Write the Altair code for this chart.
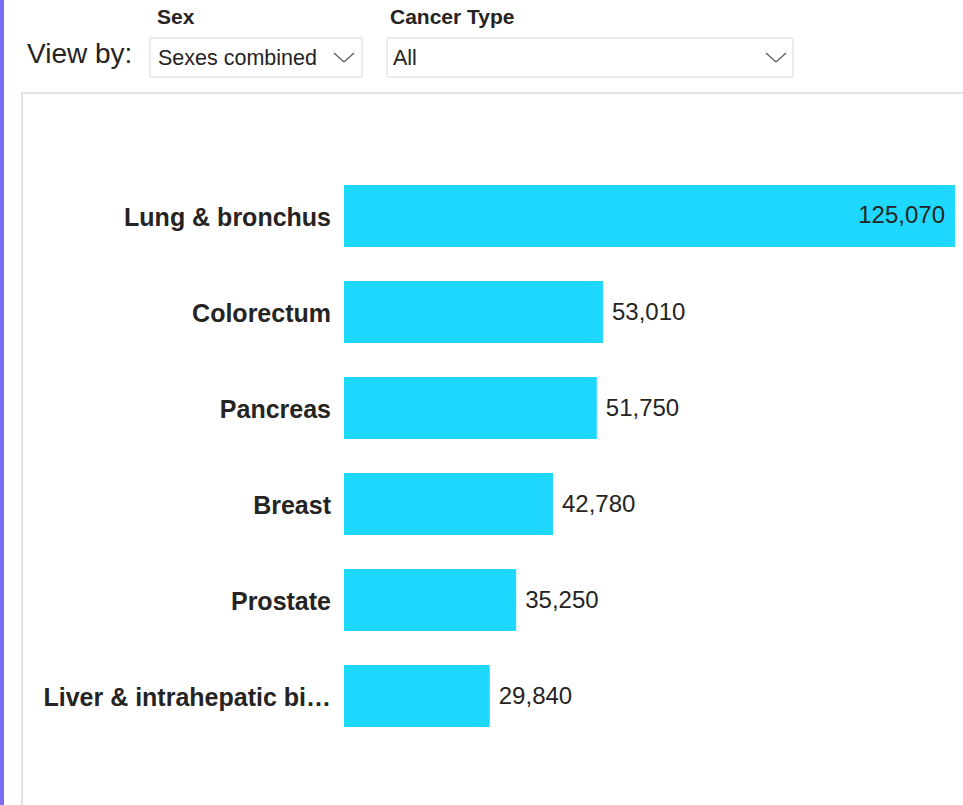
import altair as alt
import pandas as pd

# Estimated new cancer deaths by site, sexes combined
sites = [
    "Lung & bronchus",
    "Colorectum",
    "Pancreas",
    "Breast",
    "Prostate",
    "Liver & intrahepatic bile duct",
]
deaths = [125070, 53010, 51750, 42780, 35250, 29840]

# Filter controls shown above the chart
filter_titles = ["Sex", "Cancer Type"]
filter_values = ["Sexes combined", "All"]

W, H = 963, 805
BAR_COLOR = "#1FD8FF"
TEXT_COLOR = "#252423"
FONT = "Liberation Sans"

df = pd.DataFrame({"site": sites, "deaths": deaths})
df["is_max"] = df["deaths"] == df["deaths"].max()

x_scale = alt.Scale(domain=[0, max(deaths)], range=[344, 955], nice=False, zero=True)
y_scale = alt.Scale(domain=sites, range=[168, 744], paddingInner=0.354, paddingOuter=0.177)

base = alt.Chart(df)

bars = base.mark_bar(color=BAR_COLOR).encode(
    x=alt.X("deaths:Q", scale=x_scale, axis=None),
    y=alt.Y("site:N", scale=y_scale, axis=None, sort=sites),
)

site_labels = base.mark_text(
    align="right", baseline="middle", font=FONT, fontSize=25, fontWeight="bold",
    color=TEXT_COLOR, limit=292, dy=2,
).encode(
    x=alt.value(331),
    y=alt.Y("site:N", scale=y_scale, axis=None, sort=sites),
    text="site:N",
)

value_out = base.transform_filter("!datum.is_max").mark_text(
    align="left", baseline="middle", font=FONT, fontSize=24, color=TEXT_COLOR, dx=9, dy=1,
).encode(
    x=alt.X("deaths:Q", scale=x_scale, axis=None),
    y=alt.Y("site:N", scale=y_scale, axis=None, sort=sites),
    text=alt.Text("deaths:Q", format=","),
)

value_in = base.transform_filter("datum.is_max").mark_text(
    align="right", baseline="middle", font=FONT, fontSize=24, color=TEXT_COLOR, dx=-10, dy=0,
).encode(
    x=alt.X("deaths:Q", scale=x_scale, axis=None),
    y=alt.Y("site:N", scale=y_scale, axis=None, sort=sites),
    text=alt.Text("deaths:Q", format=","),
)

# Page decoration: accent strip, chart panel frame and the filter boxes
one = alt.Chart(pd.DataFrame({"k": [0]}))

accent = one.mark_rect(color="#7B6CF5").encode(
    x=alt.value(0), x2=alt.value(4), y=alt.value(0), y2=alt.value(H)
)
panel = one.mark_rect(fill="white", stroke="#E3E3E3", strokeWidth=2).encode(
    x=alt.value(22), x2=alt.value(W + 10), y=alt.value(93), y2=alt.value(H + 10)
)
box1 = one.mark_rect(fill="white", stroke="#E8E8E8", strokeWidth=1.5).encode(
    x=alt.value(150), x2=alt.value(362), y=alt.value(38), y2=alt.value(77)
)
box2 = one.mark_rect(fill="white", stroke="#E8E8E8", strokeWidth=1.5).encode(
    x=alt.value(387), x2=alt.value(793), y=alt.value(38), y2=alt.value(77)
)


def chevron(cx):
    left = one.mark_rule(color="#605E5C", strokeWidth=1.3).encode(
        x=alt.value(cx - 10), x2=alt.value(cx), y=alt.value(53), y2=alt.value(62)
    )
    right = one.mark_rule(color="#605E5C", strokeWidth=1.3).encode(
        x=alt.value(cx), x2=alt.value(cx + 10), y=alt.value(62), y2=alt.value(53)
    )
    return left + right


view_by = one.mark_text(
    text="View by:", align="left", baseline="middle", font=FONT, fontSize=28, color=TEXT_COLOR
).encode(x=alt.value(27), y=alt.value(55))

titles = [
    one.mark_text(
        text=t, align="left", baseline="middle", font=FONT, fontSize=21,
        fontWeight="bold", color=TEXT_COLOR,
    ).encode(x=alt.value(px), y=alt.value(18))
    for t, px in zip(filter_titles, [157, 390])
]
values = [
    one.mark_text(
        text=t, align="left", baseline="middle", font=FONT, fontSize=21.5, color=TEXT_COLOR,
    ).encode(x=alt.value(px), y=alt.value(59))
    for t, px in zip(filter_values, [158, 393])
]

chart = alt.layer(
    accent, panel, box1, box2, chevron(344), chevron(776), view_by, *titles, *values,
    bars, site_labels, value_out, value_in,
).properties(
    width=W, height=H, padding=0, autosize=alt.AutoSizeParams(type="none"),
    background="white",
).configure_view(stroke=None)

chart.save("out.html", embed_options={"renderer": "svg", "actions": False})
